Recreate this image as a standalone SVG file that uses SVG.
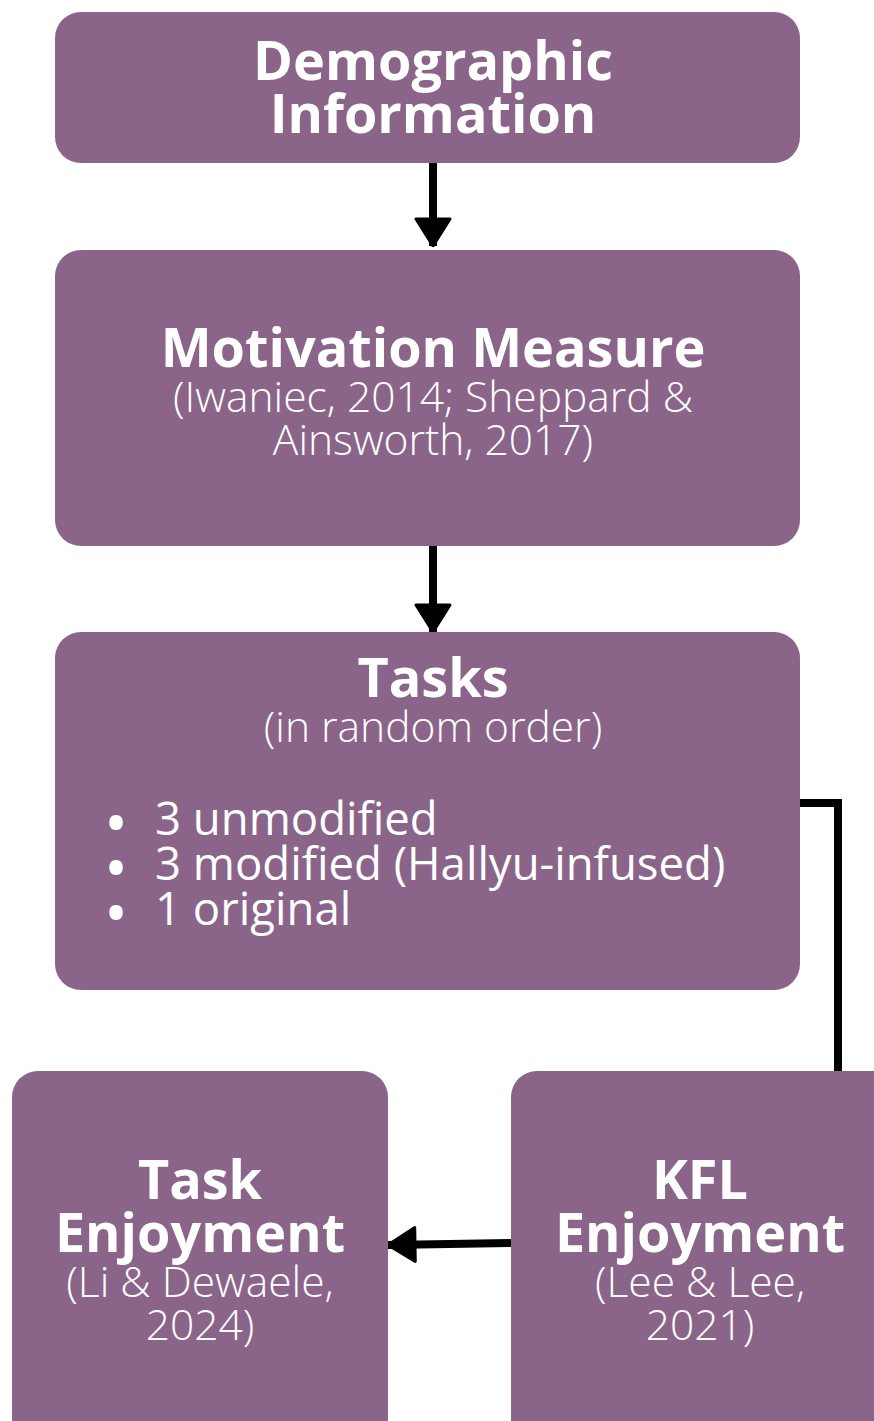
<svg xmlns="http://www.w3.org/2000/svg" width="874" height="1421" viewBox="0 0 874 1421">
<style>
.box{fill:#8a6589}
.t{font-family:"Open Sans",sans-serif;fill:#fff;text-anchor:middle}
.b{font-weight:700;font-size:54px}
.l{font-weight:300;font-size:42.5px}
.r{font-weight:400;font-size:45.5px;text-anchor:start}
.bu{font-size:64px}
.c{stroke:#000;stroke-width:8;fill:none}
</style>
<defs>
<marker id="ah" viewBox="0 0 30 38" refX="29" refY="19" markerWidth="30" markerHeight="38" markerUnits="userSpaceOnUse" orient="auto">
<path d="M2,2 L29,19 L2,36 Z" fill="#000" stroke="#000" stroke-width="3" stroke-linejoin="round"/>
</marker>
</defs>
<rect width="874" height="1421" fill="#fff"/>
<g id="connectors">
<line class="c" x1="433" y1="160" x2="433" y2="246" marker-end="url(#ah)"/>
<line class="c" x1="433" y1="546" x2="433" y2="632" marker-end="url(#ah)"/>
<polyline class="c" points="800,803 838,803 838,1075"/>
<line class="c" x1="511" y1="1243" x2="388" y2="1245" marker-end="url(#ah)"/>
</g>
<g id="demographic">
<rect class="box" x="55" y="12" width="745" height="151" rx="26"/>
<text class="t b" x="433" y="80">Demographic</text>
<text class="t b" x="433" y="133">Information</text>
</g>
<g id="motivation">
<rect class="box" x="55" y="250" width="745" height="296" rx="26"/>
<text class="t b" x="433" y="367">Motivation Measure</text>
<text class="t l" x="433" y="412">(Iwaniec, 2014; Sheppard &amp;</text>
<text class="t l" x="433" y="455">Ainsworth, 2017)</text>
</g>
<g id="tasks">
<rect class="box" x="55" y="632" width="745" height="358" rx="26"/>
<text class="t b" x="433" y="697">Tasks</text>
<text class="t l" x="433" y="742">(in random order)</text>
<text class="t r"><tspan class="bu" x="104" y="846">•</tspan><tspan x="155" y="835">3 unmodified</tspan></text>
<text class="t r"><tspan class="bu" x="104" y="891">•</tspan><tspan x="155" y="880">3 modified (Hallyu-infused)</tspan></text>
<text class="t r"><tspan class="bu" x="104" y="936">•</tspan><tspan x="155" y="925">1 original</tspan></text>
</g>
<g id="task-enjoyment">
<rect class="box" x="12" y="1071" width="376" height="380" rx="26"/>
<text class="t b" x="200" y="1199">Task</text>
<text class="t b" x="200" y="1252">Enjoyment</text>
<text class="t l" x="200" y="1297">(Li &amp; Dewaele,</text>
<text class="t l" x="200" y="1340">2024)</text>
</g>
<g id="kfl-enjoyment">
<rect class="box" x="511" y="1071" width="400" height="380" rx="26"/>
<text class="t b" x="700" y="1199">KFL</text>
<text class="t b" x="700" y="1252">Enjoyment</text>
<text class="t l" x="700" y="1297">(Lee &amp; Lee,</text>
<text class="t l" x="700" y="1340">2021)</text>
</g>
</svg>
